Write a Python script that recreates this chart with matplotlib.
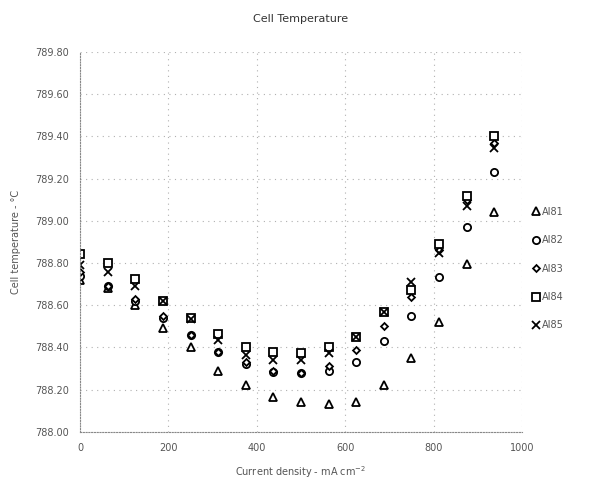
import numpy as np
import matplotlib
matplotlib.use("Agg")
import matplotlib.pyplot as plt

# current density, mA cm^-2
current = [0, 62.5, 125, 187.5, 250, 312.5, 375, 437.5, 500, 562.5,
           625, 687.5, 750, 812.5, 875, 937.5]

# cell temperature per anode, degC
ai81 = [788.72, 788.68, 788.60, 788.49, 788.40, 788.29, 788.22, 788.165,
        788.14, 788.13, 788.14, 788.22, 788.35, 788.52, 788.795, 789.04]
ai82 = [788.74, 788.69, 788.62, 788.54, 788.46, 788.38, 788.32, 788.285,
        788.28, 788.29, 788.33, 788.43, 788.55, 788.735, 788.97, 789.23]
ai83 = [788.76, 788.69, 788.63, 788.55, 788.46, 788.38, 788.33, 788.29,
        788.28, 788.31, 788.39, 788.50, 788.64, 788.86, 789.10, 789.37]
ai84 = [788.845, 788.80, 788.725, 788.62, 788.54, 788.465, 788.40, 788.38,
        788.375, 788.40, 788.45, 788.57, 788.67, 788.89, 789.12, 789.40]
ai85 = [788.79, 788.76, 788.69, 788.62, 788.535, 788.435, 788.365, 788.34,
        788.34, 788.375, 788.45, 788.57, 788.71, 788.85, 789.07, 789.345]

series = [("AI81", ai81, "^", 5.2),
          ("AI82", ai82, "o", 5.2),
          ("AI83", ai83, "D", 3.5),
          ("AI84", ai84, "s", 5.5),
          ("AI85", ai85, "x", 5.5)]

fig = plt.figure(figsize=(6.02, 4.82), dpi=100)
ax = fig.add_axes([0.133, 0.104, 0.734, 0.788])

for name, vals, mk, ms in series:
    if mk == "x":
        ax.plot(current, vals, linestyle="none", marker=mk, ms=ms,
                color="black", mew=1.3, label=name)
    else:
        ax.plot(current, vals, linestyle="none", marker=mk, ms=ms,
                mfc="white", mec="black", mew=1.3, label=name)

ax.set_xlim(0, 1000)
ax.set_ylim(788.0, 789.8)
ax.set_xticks(np.arange(0, 1001, 200))
ax.set_yticks(np.arange(788.0, 789.81, 0.2))
ax.set_yticklabels([f"{v:.2f}" for v in np.arange(788.0, 789.81, 0.2)])

ax.grid(True, color="#b0b0b0", linestyle=(0, (1, 4)), linewidth=0.8)
ax.set_axisbelow(True)
for side in ["top", "right"]:
    ax.spines[side].set_visible(False)
for side in ["left", "bottom"]:
    ax.spines[side].set_linestyle((0, (1, 1.5)))
    ax.spines[side].set_color("#888888")
    ax.spines[side].set_linewidth(0.8)
ax.tick_params(length=0, labelsize=7, colors="#555555", pad=8)

ax.set_title("Cell Temperature", fontsize=8, color="#333333", pad=22)
ax.set_xlabel("Current density - mA cm$^{-2}$", fontsize=7, color="#555555", labelpad=8)
ax.set_ylabel("Cell temperature - \u00b0C", fontsize=7, color="#555555", labelpad=10)

ax.legend(loc="center left", bbox_to_anchor=(1.0, 0.43), frameon=False,
          fontsize=7, labelspacing=1.9, handletextpad=0.2, handlelength=1.0,
          labelcolor="#555555")

fig.savefig("out.png", dpi=100)
